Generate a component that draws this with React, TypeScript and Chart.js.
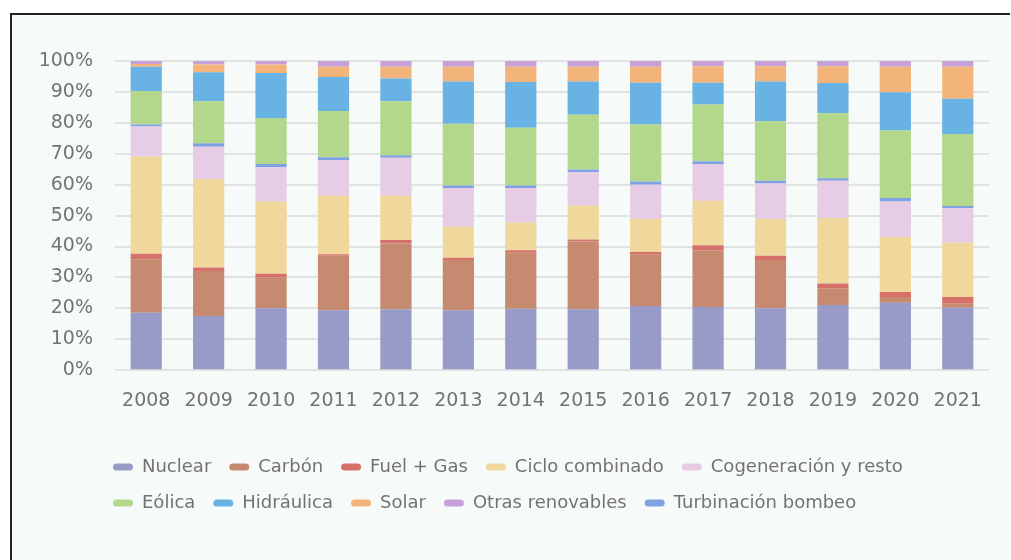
import React, { useEffect, useRef } from "react";
import { Chart, registerables } from "chart.js";

Chart.register(...registerables);

const years = ["2008", "2009", "2010", "2011", "2012", "2013", "2014", "2015", "2016", "2017", "2018", "2019", "2020", "2021"];

// shares in % (stack order bottom -> top)
const nuclear = [18.6, 17.5, 20.0, 19.4, 19.7, 19.4, 19.9, 19.7, 20.8, 20.4, 20.0, 21.1, 21.8, 20.2];
const carbon = [17.3, 14.6, 9.9, 17.6, 21.3, 16.2, 18.1, 21.9, 16.5, 18.4, 15.6, 5.4, 1.9, 1.3];
const fuelGas = [1.8, 1.1, 1.3, 0.5, 1.1, 0.8, 0.8, 0.7, 0.9, 1.6, 1.4, 1.5, 1.6, 2.2];
const cicloCombinado = [31.4, 28.6, 23.4, 18.9, 14.3, 10.0, 9.0, 10.9, 10.7, 14.4, 11.9, 21.2, 17.8, 17.6];
const cogeneracion = [9.7, 10.5, 11.0, 11.6, 12.3, 12.5, 11.1, 10.8, 11.1, 11.9, 11.5, 12.1, 11.5, 11.1];
const turbinacion = [0.7, 1.1, 1.1, 0.9, 0.8, 0.8, 0.8, 0.9, 1.0, 0.9, 0.9, 0.8, 1.1, 0.7];
const eolica = [10.8, 13.6, 14.9, 14.9, 17.5, 20.0, 18.7, 17.7, 18.5, 18.3, 19.2, 21.0, 21.8, 23.3];
const hidraulica = [7.8, 9.4, 14.5, 11.0, 7.3, 13.7, 14.8, 10.8, 13.5, 7.1, 12.9, 9.8, 12.4, 11.4];
const solar = [0.9, 2.5, 2.8, 3.3, 3.8, 4.7, 4.9, 4.7, 5.1, 5.3, 4.9, 5.4, 8.2, 10.3];
const otrasRenovables = [1.0, 1.1, 1.1, 1.9, 1.9, 1.9, 1.9, 1.9, 1.9, 1.7, 1.7, 1.7, 1.9, 1.9];

const yTicks = [0, 10, 20, 30, 40, 50, 60, 70, 80, 90, 100];

const seriesNames = ["Nuclear", "Carbón", "Fuel + Gas", "Ciclo combinado", "Cogeneración y resto", "Turbinación bombeo", "Eólica", "Hidráulica", "Solar", "Otras renovables"];
const seriesData = [nuclear, carbon, fuelGas, cicloCombinado, cogeneracion, turbinacion, eolica, hidraulica, solar, otrasRenovables];
const seriesColors = ["#989bc8", "#c58a6f", "#d6706a", "#f0d79b", "#e6cde5", "#7fa2e3", "#b3d78b", "#68b2e4", "#f2b47a", "#c8a0d8"];
// legend display order
const legendOrder = ["Nuclear", "Carbón", "Fuel + Gas", "Ciclo combinado", "Cogeneración y resto", "Eólica", "Hidráulica", "Solar", "Otras renovables", "Turbinación bombeo"];

const legendShift = {
  id: "legendShift",
  afterLayout(chart: any) {
    const lg = chart.legend;
    if (!lg) return;
    const dx = -20;
    const dy = 17;
    lg.left += dx;
    lg.right += dx;
    lg.top += dy;
    lg.bottom += dy;
  },
};

export default function App() {
  const canvasRef = useRef<HTMLCanvasElement | null>(null);

  useEffect(() => {
    if (!canvasRef.current) return;
    document.documentElement.style.overflow = "hidden";
    document.body.style.overflow = "hidden";
    Chart.defaults.font.family = "'DejaVu Sans', sans-serif";
    const chart = new Chart(canvasRef.current, {
      type: "bar",
      data: {
        labels: years,
        datasets: seriesNames.map((name, i) => ({
          label: name,
          data: seriesData[i],
          backgroundColor: seriesColors[i],
          borderWidth: 0,
          barPercentage: 0.5,
          categoryPercentage: 1,
        })),
      },
      options: {
        animation: false,
        responsive: true,
        maintainAspectRatio: false,
        layout: { padding: { left: 27, right: 21, top: 46, bottom: 55 } },
        scales: {
          x: {
            stacked: true,
            grid: { display: false },
            border: { display: false },
            ticks: {
              color: "#737373",
              font: { size: 19 },
              padding: 11,
              autoSkip: false,
              maxRotation: 0,
            },
          },
          y: {
            stacked: true,
            min: 0,
            max: 100,
            afterFit: (s: any) => {
              s.width = 76;
            },
            afterBuildTicks: (s: any) => {
              s.ticks = yTicks.map((v) => ({ value: v }));
            },
            grid: { color: "#e1e3e3", lineWidth: 2, drawTicks: false },
            border: { display: false },
            ticks: {
              color: "#737373",
              font: { size: 19 },
              padding: 22,
              callback: (v: any) => `${v}%`,
            },
          },
        },
        plugins: {
          tooltip: { enabled: false },
          legend: {
            position: "bottom",
            align: "start",
            fullSize: false,
            labels: {
              color: "#737373",
              font: { size: 18 },
              boxWidth: 20,
              boxHeight: 7,
              useBorderRadius: true,
              borderRadius: 3.5,
              padding: 18,
              sort: (a: any, b: any) => legendOrder.indexOf(a.text) - legendOrder.indexOf(b.text),
            },
          },
        },
      },
      plugins: [legendShift],
    } as any);
    return () => chart.destroy();
  }, []);

  return (
    <div
      style={{
        position: "absolute",
        left: 10,
        top: 13,
        width: 1000,
        height: 547,
        boxSizing: "border-box",
        borderLeft: "2px solid #222",
        borderTop: "2px solid #222",
        background: "#f6faf8",
        overflow: "hidden",
      }}
    >
      <div style={{ position: "relative", width: 998, height: 545 }}>
        <canvas ref={canvasRef} />
      </div>
    </div>
  );
}
